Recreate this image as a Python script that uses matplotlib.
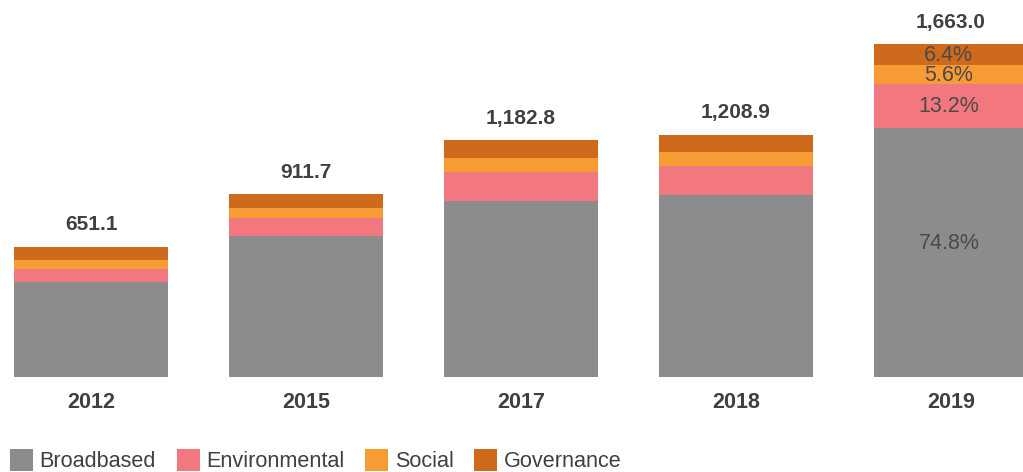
import matplotlib
matplotlib.use("Agg")
import matplotlib.pyplot as plt
import numpy as np

plt.rcParams['font.family'] = ['Liberation Sans', 'DejaVu Sans']

years = ['2012', '2015', '2017', '2018', '2019']
totals = [651.1, 911.7, 1182.8, 1208.9, 1663.0]
broadbased = [476.1, 706.7, 877.8, 908.9, 1243.9]
environmental = [65.0, 90.0, 145.0, 145.0, 219.5]
social = [45.0, 45.0, 70.0, 70.0, 93.1]
governance = [65.0, 70.0, 90.0, 85.0, 106.5]
series_names = ['Broadbased', 'Environmental', 'Social', 'Governance']
colors = ['#8c8c8e', '#f2777e', '#f79b35', '#cf6a1c']
pct_2019 = ['74.8%', '13.2%', '5.6%', '6.4%']

W, H = 1023, 472
fig = plt.figure(figsize=(W / 100, H / 100), dpi=100)
base_px = 95
ax = fig.add_axes([0, base_px / H, 1, (H - base_px) / H])

x = np.arange(len(years))
width = 0.716
bottom = np.zeros(len(years))
handles = []
for name, vals, c in zip(series_names, [broadbased, environmental, social, governance], colors):
    b = ax.bar(x, vals, width, bottom=bottom, color=c, label=name, linewidth=0)
    handles.append(b)
    bottom += np.array(vals)

ax.set_xlim(-0.4233, 4.335)
ax.set_ylim(0, 377 / 0.2002)

for xi, t in zip(x, totals):
    ax.annotate(f'{t:,.1f}', (xi, t), xytext=(0, 9), textcoords='offset points',
                ha='center', va='bottom', fontsize=15, fontweight='bold', color='#404040')

# 2019 percentage labels
stack = [broadbased[4], environmental[4], social[4], governance[4]]
frac = [0.535, 0.48, 0.45, 0.47]
cum = 0
for v, lab, f in zip(stack, pct_2019, frac):
    ax.text(3.99, cum + v * f, lab, ha='center', va='center', fontsize=15.5, color='#4a4a4a')
    cum += v

ax.set_xticks(x)
ax.set_xticklabels(years, fontsize=15.5, fontweight='bold', color='#404040')
ax.tick_params(axis='x', length=0, pad=11)
ax.set_yticks([])
for s in ax.spines.values():
    s.set_visible(False)

leg = fig.legend(handles=handles, labels=series_names, loc='lower left',
                 bbox_to_anchor=(10 / W, 0), ncol=4, frameon=False, fontsize=15.6,
                 handlelength=1.07, handleheight=1.2, handletextpad=0.3, columnspacing=0.95,
                 borderaxespad=0, borderpad=0, labelcolor='#404040')

fig.savefig('out.png', dpi=100)
